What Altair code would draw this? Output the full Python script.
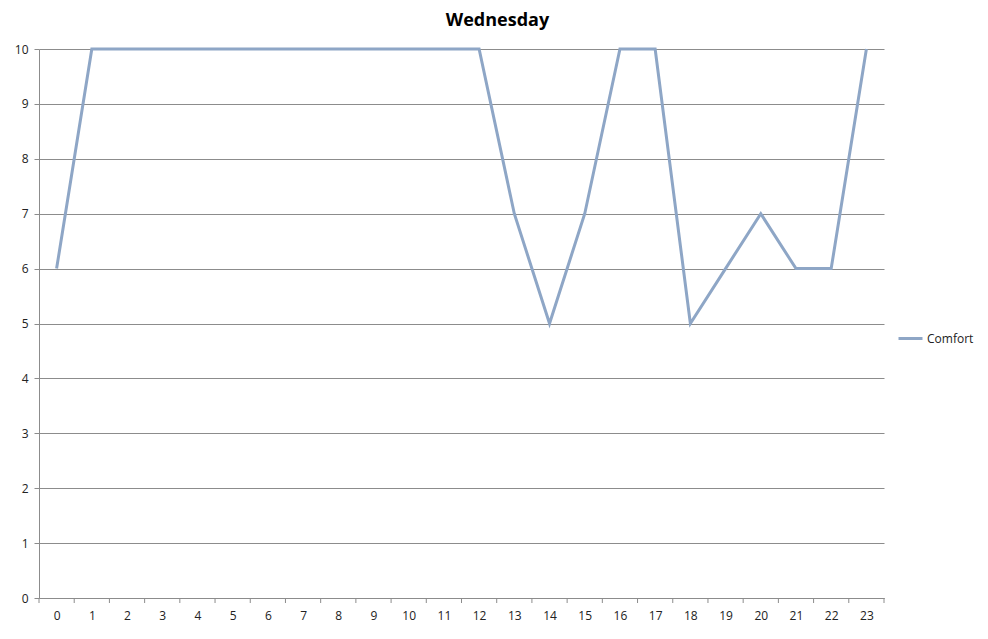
import altair as alt
import pandas as pd

hours = list(range(24))
comfort = [6, 10, 10, 10, 10, 10, 10, 10, 10, 10, 10, 10, 10, 7, 5, 7, 10, 10, 5, 6, 7, 6, 6, 10]
series = ["Comfort"] * 24
tick_pos = [h - 0.5 for h in range(25)]

df = pd.DataFrame({"hour": hours, "value": comfort, "series": series})
ticks = pd.DataFrame({"t": tick_pos})

W, H = 845, 549
FONT = "Open Sans"
GRID = "#8c8c8c"

xscale = alt.Scale(domain=[-0.5, 23.5], nice=False, zero=False)
xaxis = alt.Axis(values=hours, ticks=False, grid=False, title=None,
                 domainColor=GRID, labelFont=FONT, labelFontSize=12,
                 labelColor="#222222", labelPadding=12, format="d",
                 labelOverlap=False, labelFlush=False)

line = alt.Chart(df).mark_line(strokeWidth=3).encode(
    x=alt.X("hour:Q", scale=xscale, axis=xaxis),
    y=alt.Y("value:Q", scale=alt.Scale(domain=[0, 10], nice=False),
            axis=alt.Axis(values=list(range(11)), title=None, grid=True,
                          gridColor=GRID, gridOpacity=1, domainColor=GRID,
                          tickColor=GRID, tickSize=5, labelFont=FONT,
                          labelFontSize=12, labelColor="#222222", labelPadding=6,
                          labelOverlap=False)),
    color=alt.Color("series:N", scale=alt.Scale(range=["#8ea6c6"]),
                    legend=alt.Legend(title=None, orient="none", legendX=858,
                                      legendY=276, symbolType="stroke",
                                      symbolSize=576, symbolStrokeWidth=3,
                                      labelFont=FONT, labelFontSize=12,
                                      labelColor="#222222", labelOffset=3)),
)

tickrules = alt.Chart(ticks).mark_rule(color=GRID, strokeWidth=1).encode(
    x=alt.X("t:Q", scale=xscale, axis=xaxis),
    y=alt.value(H),
    y2=alt.value(H + 5),
)

chart = alt.layer(line, tickrules).properties(
    width=W, height=H,
    autosize=alt.AutoSizeParams(type="none"),
    padding={"left": 31, "top": 41, "right": 92, "bottom": 28},
    title=alt.Title("Wednesday", font=FONT, fontSize=18, fontWeight="bold",
                    color="#000000", anchor="middle", dx=36, offset=13),
).configure_view(stroke=None)

chart.save("out.html", embed_options={"renderer": "svg", "actions": False})
